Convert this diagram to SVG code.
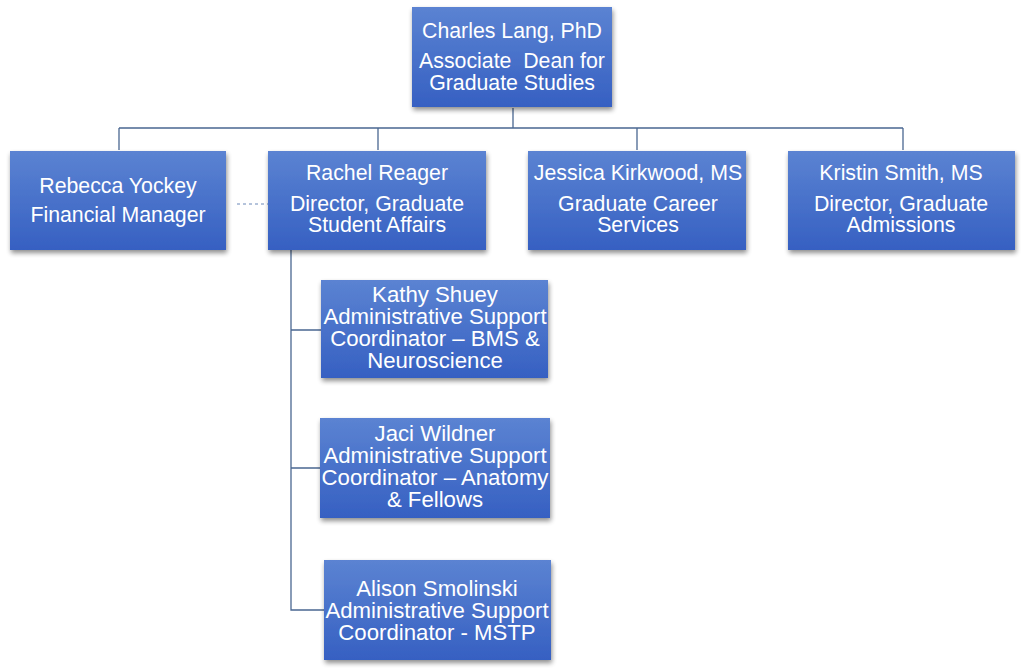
<svg xmlns="http://www.w3.org/2000/svg" width="1024" height="668" viewBox="0 0 1024 668">
<defs>
<linearGradient id="g" x1="0" y1="0" x2="0" y2="1">
<stop offset="0" stop-color="#5b83d2"/>
<stop offset="1" stop-color="#3660c2"/>
</linearGradient>
<filter id="sh" x="-10%" y="-10%" width="125%" height="130%">
<feGaussianBlur in="SourceAlpha" stdDeviation="2.5"/>
<feOffset dx="1" dy="3" result="b"/>
<feComponentTransfer><feFuncA type="linear" slope="0.45"/></feComponentTransfer>
<feMerge><feMergeNode/><feMergeNode in="SourceGraphic"/></feMerge>
</filter>
</defs>
<style>
.box{fill:url(#g);filter:url(#sh)}
.t{font-family:"Liberation Sans",Arial,sans-serif;font-size:21.3px;fill:#fff;text-anchor:middle}
.s{font-size:22.2px}
.c{stroke:#4a6791;stroke-width:1.3;fill:none}
.d{stroke:#6a88b8;stroke-width:1;stroke-dasharray:3 3;fill:none}
</style>
<rect width="1024" height="668" fill="#fff"/>
<g id="connectors">
<path class="c" d="M513 108V128M119 128H903M119 128V150M378 128V150M637 128V150M903 128V150"/>
<path class="c" d="M291 250V610H324M291 330H321M291 468H320"/>
<path class="d" d="M237 204H268"/>
</g>
<g id="n-lang">
<rect class="box" x="412" y="7" width="200" height="100"/>
<text class="t" x="512" y="38">Charles Lang, PhD</text>
<text class="t" x="512" y="68" xml:space="preserve">Associate  Dean for</text>
<text class="t" x="512" y="90">Graduate Studies</text>
</g>
<g id="n-yockey">
<rect class="box" x="10" y="151" width="216" height="99"/>
<text class="t" x="118" y="193">Rebecca Yockey</text>
<text class="t" x="118" y="222">Financial Manager</text>
</g>
<g id="n-reager">
<rect class="box" x="268" y="151" width="218" height="99"/>
<text class="t" x="377" y="180">Rachel Reager</text>
<text class="t" x="377" y="211">Director, Graduate</text>
<text class="t" x="377" y="232">Student Affairs</text>
</g>
<g id="n-kirkwood">
<rect class="box" x="528" y="151" width="218" height="99"/>
<text class="t" x="638" y="180">Jessica Kirkwood, MS</text>
<text class="t" x="638" y="211">Graduate Career</text>
<text class="t" x="638" y="232">Services</text>
</g>
<g id="n-smith">
<rect class="box" x="788" y="151" width="227" height="99"/>
<text class="t" x="901" y="180">Kristin Smith, MS</text>
<text class="t" x="901" y="211">Director, Graduate</text>
<text class="t" x="901" y="232">Admissions</text>
</g>
<g id="n-shuey">
<rect class="box" x="321" y="280" width="227" height="98"/>
<text class="t s" x="435" y="302">Kathy Shuey</text>
<text class="t s" x="435" y="324">Administrative Support</text>
<text class="t s" x="435" y="346">Coordinator – BMS &amp;</text>
<text class="t s" x="435" y="368">Neuroscience</text>
</g>
<g id="n-wildner">
<rect class="box" x="320" y="418" width="230" height="100"/>
<text class="t s" x="435" y="441">Jaci Wildner</text>
<text class="t s" x="435" y="463">Administrative Support</text>
<text class="t s" x="435" y="485">Coordinator – Anatomy</text>
<text class="t s" x="435" y="507">&amp; Fellows</text>
</g>
<g id="n-smolinski">
<rect class="box" x="324" y="560" width="227" height="100"/>
<text class="t s" x="437" y="596">Alison Smolinski</text>
<text class="t s" x="437" y="618">Administrative Support</text>
<text class="t s" x="437" y="640">Coordinator - MSTP</text>
</g>
</svg>
